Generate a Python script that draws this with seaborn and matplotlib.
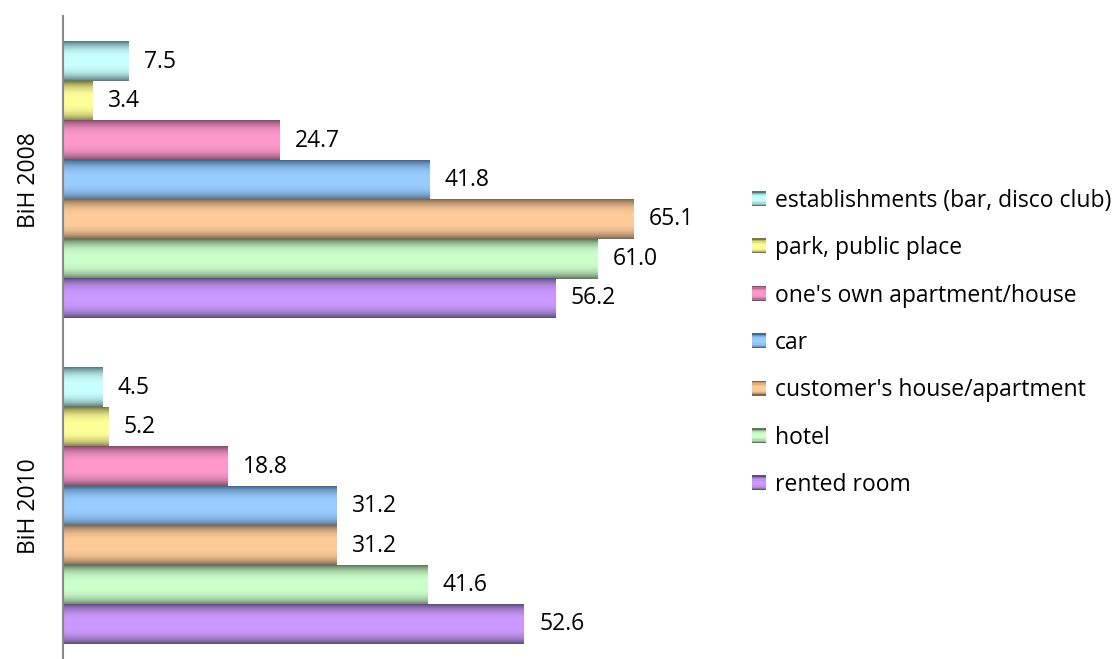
import numpy as np
import pandas as pd
import matplotlib
matplotlib.use('Agg')
from matplotlib import pyplot as plt
from matplotlib.patches import Patch, Rectangle
from matplotlib.legend_handler import HandlerBase
import seaborn as sns

# Values
years = ['BiH 2008', 'BiH 2010']
places = ['establishments (bar, disco club)', 'park, public place', "one's own apartment/house",
          'car', "customer's house/apartment", 'hotel', 'rented room']
values_2008 = [7.5, 3.4, 24.7, 41.8, 65.1, 61.0, 56.2]
values_2010 = [4.5, 5.2, 18.8, 31.2, 31.2, 41.6, 52.6]

# light (middle) and dark (edge) shade for each series
light_colors = ['#C8FFFF', '#FFFF99', '#FF99CC', '#99CCFF', '#FFCC99', '#CCFFCC', '#CC99FF']
dark_colors = ['#587878', '#787844', '#7E4E68', '#486888', '#7E6650', '#5E785E', '#5E4E7A']

df = pd.DataFrame({
    'year': np.repeat(years, len(places)),
    'place': places * 2,
    'value': values_2008 + values_2010,
})

sns.set_style('white')
plt.rcParams['font.family'] = ['Open Sans', 'DejaVu Sans']
plt.rcParams['text.color'] = 'black'
plt.rcParams['ytick.color'] = 'black'
fs = 16.5


def shade(dark, light, n=64):
    # cylinder like fill: dark at the edges, light in the middle
    t = np.linspace(-1, 1, n)
    f = 1 - np.abs(t) ** 3
    d = np.array(matplotlib.colors.to_rgb(dark))
    l = np.array(matplotlib.colors.to_rgb(light))
    return d[None, :] * (1 - f[:, None]) + l[None, :] * f[:, None]


class GradHandler(HandlerBase):
    def __init__(self, dark, light):
        super().__init__()
        self.cols = shade(dark, light, 12)

    def create_artists(self, legend, orig_handle, xdescent, ydescent, width, height, fontsize, trans):
        n = len(self.cols)
        out = []
        for i, c in enumerate(self.cols):
            out.append(Rectangle((-xdescent, -ydescent + height * i / n), width, height / n + 0.3,
                                 facecolor=c, edgecolor='none', transform=trans))
        return out


fig = plt.figure(figsize=(11.19, 6.59), dpi=100)
ax = fig.add_axes([63 / 1119, 0, 701 / 1119, 643 / 659])

sns.barplot(data=df, y='year', x='value', hue='place', hue_order=places, order=years,
            palette=light_colors, orient='h', width=0.847, legend=False, ax=ax)

for i, cont in enumerate(ax.containers):
    grad = shade(dark_colors[i], light_colors[i])[:, None, :]
    for bar in cont:
        x0, y0 = bar.get_x(), bar.get_y()
        w, h = bar.get_width(), bar.get_height()
        bar.set_facecolor('none')
        bar.set_edgecolor('none')
        ax.imshow(grad, extent=[x0, x0 + w, y0 + h, y0], aspect='auto', zorder=2,
                  interpolation='bilinear')
    ax.bar_label(cont, fmt='%.1f', padding=11, fontsize=fs, color='black')

ax.set_xlim(0, 80)
ax.set_ylim(1.469, -0.503)
ax.set_xlabel('')
ax.set_ylabel('')
ax.set_xticks([])
ax.tick_params(axis='y', length=0, pad=16, labelsize=fs)
for lab in ax.get_yticklabels():
    lab.set_rotation(90)
    lab.set_va('center')
for s in ['top', 'right', 'bottom']:
    ax.spines[s].set_visible(False)
ax.spines['left'].set_color('#888888')
ax.spines['left'].set_linewidth(1.5)

handles = [Patch(facecolor=c) for c in light_colors]
hmap = {h: GradHandler(d, l) for h, d, l in zip(handles, dark_colors, light_colors)}
fig.legend(handles, places, handler_map=hmap, loc='center left',
           bbox_to_anchor=(752 / 1119, 1 - 343 / 659), frameon=False, fontsize=fs,
           handlelength=0.6, handleheight=0.6, handletextpad=0.4, labelspacing=1.02,
           borderpad=0, borderaxespad=0)

fig.savefig('out.png', dpi=100)
